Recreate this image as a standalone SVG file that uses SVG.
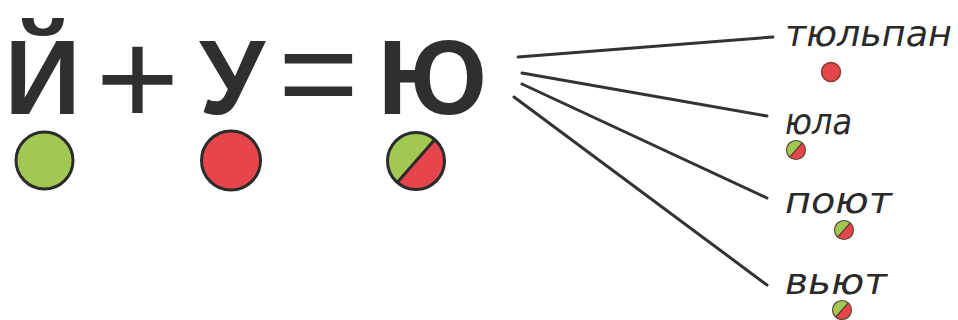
<svg xmlns="http://www.w3.org/2000/svg" width="958" height="320" viewBox="0 0 958 320">
  <style>
    .big { font-family: "Liberation Sans", Arial, sans-serif; font-weight: bold; font-size: 106px; fill: #2f2f2f; text-anchor: middle; }
    .op { font-family: "Liberation Sans", Arial, sans-serif; font-weight: normal; fill: #2f2f2f; text-anchor: middle; }
    .word { font-family: "DejaVu Sans", "Liberation Sans", sans-serif; font-style: oblique; font-size: 36px; fill: #2a2a2a; }
    .conn { stroke: #333333; stroke-width: 3; stroke-linecap: round; fill: none; }
    .green { fill: #a1c852; }
    .red { fill: #e6464b; }
    .ring { fill: none; stroke: #2b2b2b; stroke-width: 3; }
  </style>
  <defs>
    <g id="splitBig">
      <circle r="28.5" class="red"/>
      <path d="M -18.8 21.4 A 28.5 28.5 0 0 1 18.8 -21.4 Z" class="green"/>
      <line x1="-18.8" y1="21.4" x2="18.8" y2="-21.4" stroke="#2b2b2b" stroke-width="3"/>
      <circle r="28.5" class="ring"/>
    </g>
    <g id="splitSmall">
      <circle r="9.5" class="red"/>
      <path d="M -6.3 7.1 A 9.5 9.5 0 0 1 6.3 -7.1 Z" class="green"/>
      <line x1="-6.3" y1="7.1" x2="6.3" y2="-7.1" stroke="#4a3a2a" stroke-width="1.2"/>
      <circle r="9.5" fill="none" stroke="#5a4a3a" stroke-width="1.2"/>
    </g>
  </defs>
  <rect width="958" height="320" fill="#ffffff"/>

  <g id="connectors">
    <line class="conn" x1="518" y1="57" x2="773" y2="37"/>
    <line class="conn" x1="522" y1="73" x2="767" y2="116"/>
    <line class="conn" x1="522" y1="84" x2="767" y2="198"/>
    <line class="conn" x1="514" y1="97" x2="767" y2="285"/>
  </g>

  <g id="node-yot">
    <text class="big" x="42.5" y="114">Й</text>
    <circle cx="44.5" cy="160.5" r="28.5" class="green"/>
    <circle cx="44.5" cy="160.5" r="28.5" class="ring"/>
  </g>
  <g id="node-plus">
    <text class="op" x="137.5" y="124.5" font-size="136" textLength="84" lengthAdjust="spacingAndGlyphs">+</text>
  </g>
  <g id="node-u">
    <text class="big" x="232" y="114">У</text>
    <circle cx="231" cy="160.5" r="29.5" class="red"/>
    <circle cx="231" cy="160.5" r="29.5" class="ring"/>
  </g>
  <g id="node-eq">
    <text class="op" x="318.5" y="118" font-size="130" textLength="81" lengthAdjust="spacingAndGlyphs">=</text>
  </g>
  <g id="node-yu">
    <text class="big" x="432.5" y="114">Ю</text>
    <use href="#splitBig" x="416" y="161"/>
  </g>

  <g id="word-tulpan">
    <text class="word" x="785" y="46" textLength="167" lengthAdjust="spacingAndGlyphs">тюльпан</text>
    <circle cx="831" cy="72" r="9.5" class="red" stroke="#8a3b2e" stroke-width="1.5"/>
  </g>
  <g id="word-yula">
    <text class="word" x="785" y="134" textLength="67" lengthAdjust="spacingAndGlyphs">юла</text>
    <use href="#splitSmall" x="796" y="150"/>
  </g>
  <g id="word-poyut">
    <text class="word" x="785" y="213" textLength="107" lengthAdjust="spacingAndGlyphs">поют</text>
    <use href="#splitSmall" x="844" y="230"/>
  </g>
  <g id="word-vyut">
    <text class="word" x="785" y="294" textLength="102" lengthAdjust="spacingAndGlyphs">вьют</text>
    <use href="#splitSmall" x="842" y="310"/>
  </g>
</svg>
